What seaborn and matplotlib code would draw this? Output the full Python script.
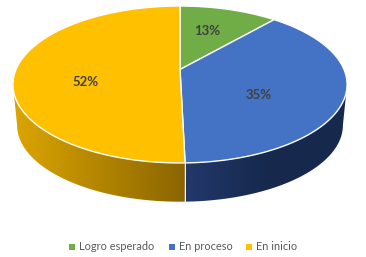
import numpy as np
import matplotlib
matplotlib.use('Agg')
import matplotlib.pyplot as plt
from matplotlib.colors import LinearSegmentedColormap
from matplotlib.patches import Polygon
import seaborn as sns

categories = ['Logro esperado', 'En proceso', 'En inicio']
# printed labels do not agree with how the slices are drawn, so both are kept
printed_pct = [13, 35, 52]
slice_sizes = [11.4, 38.2, 50.4]

colors = sns.color_palette(['#70AD47', '#4472C4', '#FFC000'])

sns.set_theme(style='white')
plt.rcParams['font.family'] = ['Lato', 'DejaVu Sans']

# perspective of the tilted pie, in pixels
CX, CY = 180, 69.5
A, B, K = 164, 75.6, 0.191
DROP, SHRINK = 41.1, 0.975


def top_rim(t):
    x, y = np.sin(t), np.cos(t)
    w = 1 + K * y
    return CX + A * x / w, CY - B * y / w


def low_rim(t):
    x, y = np.sin(t), np.cos(t)
    w = 1 + K * y
    return CX + SHRINK * A * x / w, CY + DROP - SHRINK * B * y / w


fig = plt.figure(figsize=(3.66, 2.57), dpi=100)
ax = fig.add_axes([0, 0, 1, 1])

ends = np.cumsum(slice_sizes) / np.sum(slice_sizes) * 2 * np.pi
starts = np.r_[0, ends[:-1]]

# widest point of the rim, the wall is only seen in front of it
side = np.arccos(-K)

# side walls: a left-to-right gradient clipped to the wall outline
wall_ramps = {
    1: (['#22386A', '#16294D', '#16294D'], (186, 347), max(starts[1], side), ends[1]),
    2: (['#DCA600', '#8A6500'], (12, 186), starts[2], min(ends[2], 2 * np.pi - side)),
}
for i, (ramp, (x0, x1), t0, t1) in wall_ramps.items():
    cmap = LinearSegmentedColormap.from_list(f'wall{i}', ramp)
    ts = np.linspace(t0, t1, 300)
    tx, ty = top_rim(ts)
    lx, ly = low_rim(ts[::-1])
    outline = Polygon(np.c_[np.r_[tx, lx], np.r_[ty, ly]], closed=True, transform=ax.transData)
    im = ax.imshow(np.linspace(0, 1, 256).reshape(1, -1), cmap=cmap, aspect='auto',
                   extent=(x0, x1, 257, 0), zorder=1)
    im.set_clip_path(outline)

# seam between the two walls at the front
sx, sy = top_rim(ends[1])
ex, ey = low_rim(ends[1])
ax.plot([sx, ex], [sy, ey], color='#E8E8E8', lw=0.6, alpha=0.6, zorder=1.5)

# top face
for s, e, col in zip(starts, ends, colors):
    ts = np.linspace(s, e, 200)
    xs, ys = top_rim(ts)
    ax.fill(np.r_[CX, xs], np.r_[CY, ys], facecolor=col, edgecolor='white', lw=1.0, zorder=2)

label_x = [207, 259, 86]
label_y = [31, 95, 82]
for p, x, y in zip(printed_pct, label_x, label_y):
    ax.text(x, y, f'{p}%', ha='center', va='center', fontsize=9.5, fontweight='bold',
            color='#404040', zorder=3)

# legend
mark_x = [71.5, 171.5, 248.5]
for name, col, x in zip(categories, colors, mark_x):
    sns.scatterplot(x=[x], y=[247], color=col, marker='s', s=13, linewidth=0, ax=ax, legend=False)
    ax.text(x + 7.5, 247, name, ha='left', va='center', fontsize=7.9, color='#595959')

ax.set_xlim(0, 366)
ax.set_ylim(257, 0)
ax.axis('off')

fig.savefig('out.png', dpi=100)
